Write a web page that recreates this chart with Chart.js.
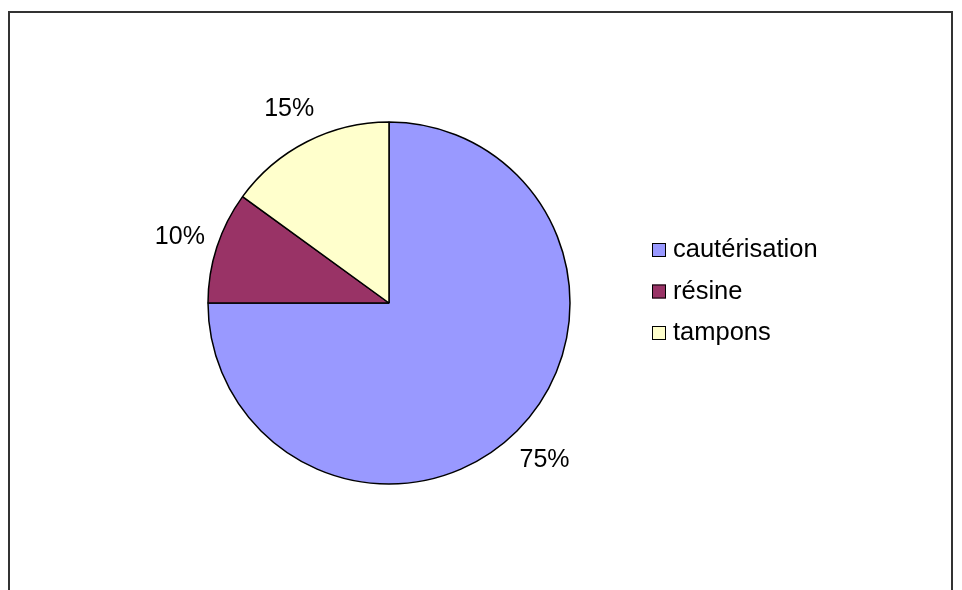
<!DOCTYPE html>
<html>
<head>
<meta charset="utf-8">
<script src="https://cdn.jsdelivr.net/npm/chart.js@4/dist/chart.umd.min.js"></script>
<style>
  body { margin: 0; background: #fff; }
  #frame { position: absolute; left: 8px; top: 11px; width: 941px; height: 600px;
           border: 2px solid #333; border-bottom: none; }
  #wrap { position: absolute; left: 0; top: 0; width: 962px; height: 590px; }
</style>
</head>
<body>
<div id="frame"></div>
<div id="wrap"><canvas id="pie-chart"></canvas></div>
<script>
// data
const labels = ["cautérisation", "résine", "tampons"]
const values = [75, 10, 15]
const colors = ["#9999FF", "#993366", "#FFFFCC"]

const fam = "'Liberation Sans', Arial, sans-serif"

// percent labels outside the slices + legend on the right
const extras = {
  id: "extras",
  afterDraw(chart) {
    const ctx = chart.ctx
    const meta = chart.getDatasetMeta(0)
    const total = values.reduce((a, b) => a + b, 0)
    ctx.save()
    ctx.font = "25px " + fam
    ctx.fillStyle = "#000"
    ctx.textAlign = "center"
    ctx.textBaseline = "middle"
    meta.data.forEach((arc, i) => {
      const p = arc.getProps(["x", "y", "startAngle", "endAngle", "outerRadius"], true)
      const mid = (p.startAngle + p.endAngle) / 2
      const r = p.outerRadius * 1.215
      ctx.fillText(Math.round(values[i] / total * 100) + "%", p.x + Math.cos(mid) * r, p.y + Math.sin(mid) * r + 2)
    })
    // legend
    ctx.font = "25.5px " + fam
    ctx.textAlign = "left"
    for (let i = 0; i < labels.length; i++) {
      const y = 250 + i * 41.5
      ctx.fillStyle = colors[i]
      ctx.fillRect(652, y - 7, 14, 14)
      ctx.strokeStyle = "#000"
      ctx.lineWidth = 1
      ctx.strokeRect(652.5, y - 6.5, 13, 13)
      ctx.fillStyle = "#000"
      ctx.fillText(labels[i], 673, y)
    }
    ctx.restore()
  }
}

new Chart(document.getElementById("pie-chart"), {
  type: 'pie',
  data: {
    labels: labels,
    datasets: [{
      data: values,
      backgroundColor: colors,
      borderColor: "#000",
      borderWidth: 1.5,
      radius: 181
    }]
  },
  options: {
    responsive: true,
    maintainAspectRatio: false,
    animation: false,
    layout: { padding: { left: 0, right: 184, top: 16, bottom: 0 } },
    plugins: { legend: { display: false }, tooltip: { enabled: false } }
  },
  plugins: [extras]
});
</script>
</body>
</html>
